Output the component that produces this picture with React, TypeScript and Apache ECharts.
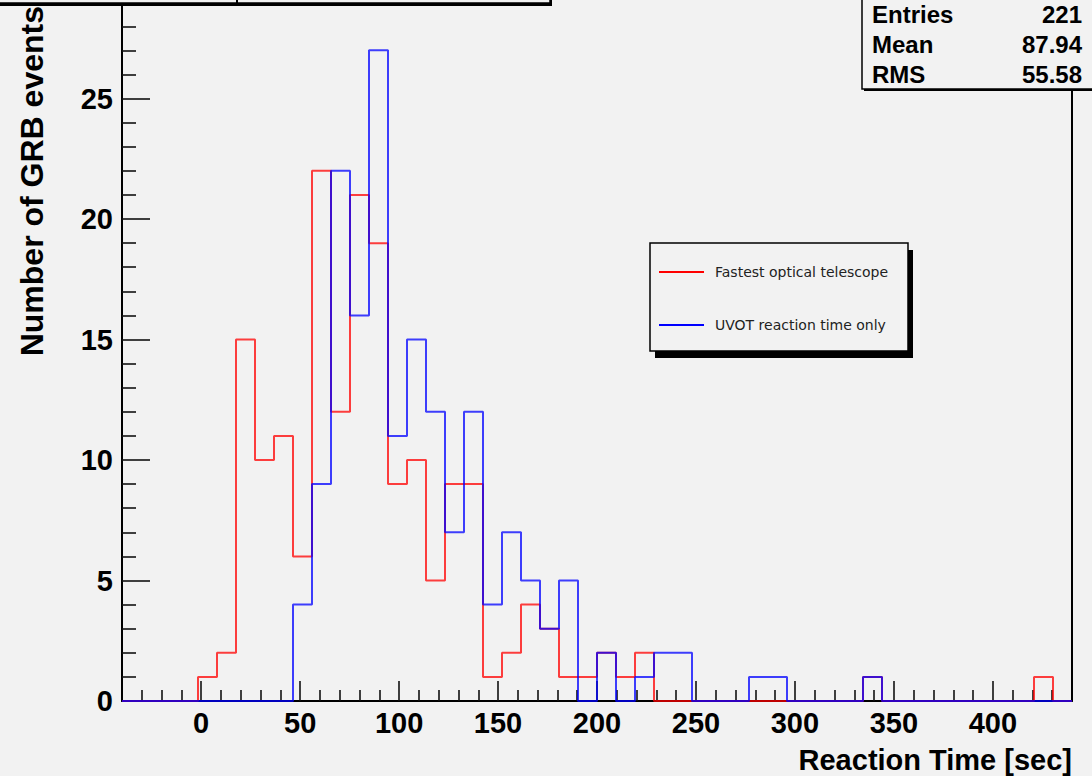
import React, { useEffect, useRef } from "react";
import * as echarts from "echarts";

// Histogram binning (ROOT TH1: 50 bins from -40 to 440)
const binMin = -40;
const binWidth = 9.6;

// Bin contents
const fastestOptical = [
  0, 0, 0, 0, 1, 2, 15, 10, 11, 6,
  22, 12, 21, 19, 9, 10, 5, 9, 9, 1,
  2, 4, 3, 1, 1, 2, 1, 2, 0, 0,
  0, 0, 0, 0, 0, 0, 0, 0, 0, 1,
  0, 0, 0, 0, 0, 0, 0, 0, 1, 0,
];
const uvotOnly = [
  0, 0, 0, 0, 0, 0, 0, 0, 0, 4,
  9, 22, 16, 27, 11, 15, 12, 7, 12, 4,
  7, 5, 3, 5, 0, 2, 0, 1, 2, 2,
  0, 0, 0, 1, 1, 0, 0, 0, 0, 1,
  0, 0, 0, 0, 0, 0, 0, 0, 0, 0,
];

const seriesNames = ["Fastest optical telescope", "UVOT reaction time only"];

// Axis ticks / labels
const xMajorTicks = [0, 50, 100, 150, 200, 250, 300, 350, 400];
const xMinorTicks = [
  -30, -20, -10, 10, 20, 30, 40, 60, 70, 80, 90, 110, 120, 130, 140, 160, 170, 180, 190,
  210, 220, 230, 240, 260, 270, 280, 290, 310, 320, 330, 340, 360, 370, 380, 390, 410, 420, 430,
];
const yMajorTicks = [0, 5, 10, 15, 20, 25];
const yMinorTicks = [
  1, 2, 3, 4, 6, 7, 8, 9, 11, 12, 13, 14, 16, 17, 18, 19, 21, 22, 23, 24, 26, 27, 28, 29,
];

const statNames = ["Entries", "Mean", "RMS"];
const statValues = ["221", "87.94", "55.58"];

const xTitle = "Reaction Time [sec]";
const yTitle = "Number of GRB events";

function stepPoints(values: number[]): number[][] {
  const pts: number[][] = [];
  values.forEach((v, k) => {
    const lo = binMin + k * binWidth;
    const hi = binMin + (k + 1) * binWidth;
    pts.push([lo, v], [hi, v]);
  });
  return pts;
}

const FONT = "'Liberation Sans', Arial, Helvetica, sans-serif";
const BG = "#f2f2f2";
const Y_MAX = 29.09;

export default function App() {
  const ref = useRef<HTMLDivElement>(null);

  useEffect(() => {
    const chart = echarts.init(ref.current!, null, { renderer: "svg" });
    const tickStyle = { color: "#111", width: 1.6 };
    const option: any = {
      animation: false,
      backgroundColor: BG,
      grid: {
        left: 122,
        right: 20,
        top: 0,
        bottom: 75,
        show: false,
      },
      xAxis: [
        {
          type: "value",
          min: -40,
          max: 440,
          position: "bottom",
          axisLine: { show: true, onZero: false, lineStyle: { color: "#000", width: 2 } },
          axisTick: { show: true, inside: true, length: 20, customValues: xMajorTicks, lineStyle: tickStyle },
          axisLabel: {
            show: true,
            customValues: xMajorTicks,
            margin: 7,
            color: "#000",
            fontFamily: FONT,
            fontWeight: "bold",
            fontSize: 29,
          },
          splitLine: { show: false },
        },
        {
          type: "value",
          min: -40,
          max: 440,
          position: "bottom",
          axisLine: { show: false, onZero: false },
          axisTick: { show: true, inside: true, length: 11, customValues: xMinorTicks, lineStyle: tickStyle },
          axisLabel: { show: false },
          splitLine: { show: false },
        },
      ],
      yAxis: [
        {
          type: "value",
          min: 0,
          max: Y_MAX,
          position: "left",
          axisLine: { show: true, onZero: false, lineStyle: { color: "#000", width: 2 } },
          axisTick: { show: true, inside: true, length: 28, customValues: yMajorTicks, lineStyle: tickStyle },
          axisLabel: {
            show: true,
            customValues: yMajorTicks,
            margin: 9,
            color: "#000",
            fontFamily: FONT,
            fontWeight: "bold",
            fontSize: 29,
          },
          splitLine: { show: false },
        },
        {
          type: "value",
          min: 0,
          max: Y_MAX,
          position: "left",
          axisLine: { show: false, onZero: false },
          axisTick: { show: true, inside: true, length: 14, customValues: yMinorTicks, lineStyle: tickStyle },
          axisLabel: { show: false },
          splitLine: { show: false },
        },
        {
          type: "value",
          min: 0,
          max: Y_MAX,
          position: "right",
          axisLine: { show: true, onZero: false, lineStyle: { color: "#000", width: 2 } },
          axisTick: { show: false },
          axisLabel: { show: false },
          splitLine: { show: false },
        },
      ],
      legend: {
        show: true,
        orient: "vertical",
        left: 659,
        top: 264,
        padding: 0,
        itemGap: 37,
        itemWidth: 45,
        itemHeight: 2,
        icon: "rect",
        selectedMode: false,
        textStyle: {
          fontFamily: "'DejaVu Sans', sans-serif",
          fontSize: 14,
          lineHeight: 16,
          color: "#222",
          padding: [0, 0, 0, 6],
        },
        data: seriesNames,
      },
      series: [
        {
          name: seriesNames[0],
          type: "line",
          xAxisIndex: 0,
          yAxisIndex: 0,
          data: stepPoints(fastestOptical),
          symbol: "none",
          showSymbol: false,
          color: "#ff0000",
          lineStyle: { color: "#ff0000", width: 2, opacity: 0.75 },
          z: 3,
        },
        {
          name: seriesNames[1],
          type: "line",
          xAxisIndex: 0,
          yAxisIndex: 0,
          data: stepPoints(uvotOnly),
          symbol: "none",
          showSymbol: false,
          color: "#0000ff",
          lineStyle: { color: "#0000ff", width: 2, opacity: 0.75 },
          z: 4,
        },
      ],
      graphic: [
        // legend box with shadow
        { type: "rect", z: 1, shape: { x: 655, y: 250, width: 258, height: 108 }, style: { fill: "#000" } },
        {
          type: "rect",
          z: 2,
          shape: { x: 650, y: 243, width: 258, height: 108 },
          style: { fill: BG, stroke: "#000", lineWidth: 1.5 },
        },
        // title box (cut off at top)
        { type: "rect", z: 100, shape: { x: -10, y: -40, width: 562, height: 46 }, style: { fill: "#000" } },
        {
          type: "rect",
          z: 101,
          shape: { x: -12, y: -42, width: 562, height: 45 },
          style: { fill: BG, stroke: "#000", lineWidth: 1.5 },
        },
        { type: "line", z: 102, shape: { x1: 237, y1: -4, x2: 237, y2: 3 }, style: { stroke: "#000", lineWidth: 2 } },
        // stats box
        { type: "rect", z: 100, shape: { x: 864, y: -40, width: 240, height: 131 }, style: { fill: "#000" } },
        {
          type: "rect",
          z: 101,
          shape: { x: 862, y: -42, width: 240, height: 131 },
          style: { fill: BG, stroke: "#000", lineWidth: 1.5 },
        },
        ...statNames.map((s, i) => ({
          type: "text",
          z: 102,
          x: 872,
          y: 14 + i * 30,
          style: {
            text: s,
            fill: "#000",
            fontFamily: FONT,
            fontWeight: "bold",
            fontSize: 24,
            align: "left",
            verticalAlign: "middle",
          },
        })),
        ...statValues.map((s, i) => ({
          type: "text",
          z: 102,
          x: 1082,
          y: 14 + i * 30,
          style: {
            text: s,
            fill: "#000",
            fontFamily: FONT,
            fontWeight: "bold",
            fontSize: 24,
            align: "right",
            verticalAlign: "middle",
          },
        })),
        // axis titles
        {
          type: "text",
          z: 50,
          x: 1072,
          y: 760,
          style: {
            text: xTitle,
            fill: "#000",
            fontFamily: FONT,
            fontWeight: "bold",
            fontSize: 29,
            align: "right",
            verticalAlign: "middle",
          },
        },
        {
          type: "text",
          z: 50,
          x: 32,
          y: 6,
          rotation: Math.PI / 2,
          style: {
            text: yTitle,
            fill: "#000",
            fontFamily: FONT,
            fontWeight: "bold",
            fontSize: 32,
            align: "right",
            verticalAlign: "middle",
          },
        },
      ],
    };
    chart.setOption(option);
    return () => chart.dispose();
  }, []);

  return (
    <div
      ref={ref}
      style={{ position: "fixed", left: 0, top: 0, width: 1092, height: 776 }}
    />
  );
}
